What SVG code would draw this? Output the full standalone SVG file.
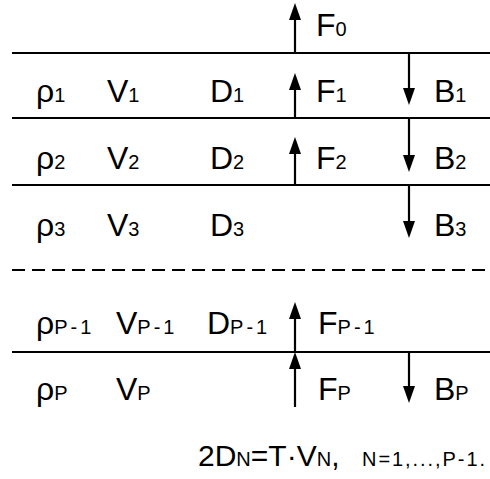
<svg xmlns="http://www.w3.org/2000/svg" width="490" height="479" viewBox="0 0 490 479">
<style>
  .ln { stroke: #000; stroke-width: 2.2; fill: none; }
  .dash { stroke: #000; stroke-width: 2.2; fill: none; stroke-dasharray: 13 7; }
  .arr { stroke: #000; stroke-width: 2.2; fill: none; marker-end: url(#head); }
  text { font-family: "Liberation Sans", Arial, sans-serif; font-size: 32px; fill: #000; }
  .s { font-size: 20px; }
  .sp { font-size: 20px; letter-spacing: 3px; }
  .f { font-size: 30px; }
</style>
<defs>
  <marker id="head" markerUnits="userSpaceOnUse" markerWidth="17" markerHeight="12" refX="6" refY="6" orient="auto" viewBox="0 0 17 12">
    <path d="M0,0 L17,6 L0,12 z" fill="#000"/>
  </marker>
</defs>
<rect width="490" height="479" fill="#fff"/>
<g id="layers">
  <line class="ln" x1="12" y1="53" x2="490" y2="53"/>
  <line class="ln" x1="12" y1="118" x2="490" y2="118"/>
  <line class="ln" x1="12" y1="185" x2="490" y2="185"/>
  <line class="dash" x1="12" y1="270" x2="490" y2="270"/>
  <line class="ln" x1="12" y1="352" x2="490" y2="352"/>
</g>
<g id="connectors">
  <line class="arr" x1="295" y1="53" x2="295" y2="14"/>
  <line class="arr" x1="295" y1="118" x2="295" y2="84"/>
  <line class="arr" x1="295" y1="185" x2="295" y2="148"/>
  <line class="arr" x1="295" y1="352" x2="295" y2="313"/>
  <line class="arr" x1="295" y1="407" x2="295" y2="363"/>
  <line class="arr" x1="409" y1="53" x2="409" y2="94"/>
  <line class="arr" x1="409" y1="118" x2="409" y2="161"/>
  <line class="arr" x1="409" y1="185" x2="409" y2="227"/>
  <line class="arr" x1="409" y1="352" x2="409" y2="392"/>
</g>
<g id="row0">
  <text x="316" y="36">F<tspan class="s">0</tspan></text>
</g>
<g id="row1">
  <text x="36" y="102">ρ<tspan class="s">1</tspan></text>
  <text x="107" y="102">V<tspan class="s">1</tspan></text>
  <text x="210" y="102">D<tspan class="s">1</tspan></text>
  <text x="316" y="102">F<tspan class="s">1</tspan></text>
  <text x="434" y="102">B<tspan class="s">1</tspan></text>
</g>
<g id="row2">
  <text x="36" y="169">ρ<tspan class="s">2</tspan></text>
  <text x="107" y="169">V<tspan class="s">2</tspan></text>
  <text x="210" y="169">D<tspan class="s">2</tspan></text>
  <text x="316" y="169">F<tspan class="s">2</tspan></text>
  <text x="434" y="169">B<tspan class="s">2</tspan></text>
</g>
<g id="row3">
  <text x="36" y="236">ρ<tspan class="s">3</tspan></text>
  <text x="107" y="236">V<tspan class="s">3</tspan></text>
  <text x="210" y="236">D<tspan class="s">3</tspan></text>
  <text x="434" y="236">B<tspan class="s">3</tspan></text>
</g>
<g id="rowP1">
  <text x="36" y="334">ρ<tspan class="sp">P-1</tspan></text>
  <text x="116" y="334">V<tspan class="sp">P-1</tspan></text>
  <text x="207" y="334">D<tspan class="sp">P-1</tspan></text>
  <text x="318" y="334">F<tspan class="sp">P-1</tspan></text>
</g>
<g id="rowP">
  <text x="36" y="400">ρ<tspan class="s">P</tspan></text>
  <text x="116" y="400">V<tspan class="s">P</tspan></text>
  <text x="318" y="400">F<tspan class="s">P</tspan></text>
  <text x="434" y="400">B<tspan class="s">P</tspan></text>
</g>
<g id="formula">
  <text class="f" x="198" y="466">2D<tspan class="s">N</tspan>=T·V<tspan class="s">N</tspan>,</text>
  <text class="s" x="362" y="466" textLength="123" lengthAdjust="spacing">N=1,...,P-1.</text>
</g>
</svg>
